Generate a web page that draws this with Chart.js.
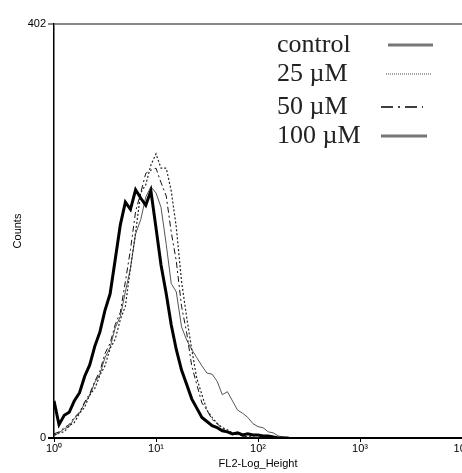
<!DOCTYPE html>
<html>
<head>
<meta charset="UTF-8" />
<title>FL2 histogram</title>
<style>
  html, body { margin: 0; padding: 0; background: #fff; overflow: hidden; }
  #box { width: 500px; height: 473px; }
</style>
</head>
<body>
<div id="box"><canvas id="histChart" width="500" height="473"></canvas></div>
<script src="https://cdn.jsdelivr.net/npm/chart.js"></script>
<script>
// FL2 channel (log scale), one point every 0.05 decade
const fl2 = [1, 1.12, 1.26, 1.41, 1.58, 1.78, 2, 2.24, 2.51, 2.82, 3.16, 3.55, 3.98, 4.47, 5.01, 5.62, 6.31, 7.08, 7.94, 8.91,
  10, 11.2, 12.6, 14.1, 15.8, 17.8, 20, 22.4, 25.1, 28.2, 31.6, 35.5, 39.8, 44.7, 50.1, 56.2, 63.1, 70.8, 79.4, 89.1,
  100, 112, 126, 141, 158, 178, 200];

const control = [36, 13, 22, 25, 36, 44, 60, 71, 89, 103, 124, 140, 173, 207, 229, 222, 241, 233, 226, 240,
  204, 168, 140, 110, 86, 66, 52, 38, 29, 20, 16, 12, 10, 7, 6, 4, 5, 3, 4, 3,
  3, 2, 2, 1, 0, 0, 0];
const um25 = [3, 5, 6, 12, 15, 24, 30, 42, 48, 61, 70, 87, 96, 115, 128, 165, 200, 238, 246, 265,
  276, 262, 262, 240, 205, 152, 117, 86, 58, 42, 27, 20, 14, 10, 8, 5, 4, 2, 1, 1,
  0, 0, 0, 0, 0, 0, 0];
const um50 = [4, 6, 10, 13, 20, 25, 35, 43, 55, 65, 82, 92, 110, 122, 152, 183, 220, 238, 257, 260,
  262, 248, 235, 200, 172, 128, 102, 70, 52, 34, 27, 18, 14, 9, 7, 4, 3, 2, 1, 1,
  0, 0, 0, 0, 0, 0, 0];
const um100 = [2, 5, 9, 11, 19, 24, 34, 41, 54, 62, 78, 88, 107, 118, 142, 165, 198, 212, 234, 244,
  238, 224, 188, 150, 142, 108, 95, 86, 78, 70, 63, 62, 55, 42, 45, 36, 27, 24, 20, 14,
  11, 10, 6, 5, 2, 1, 0];

const seriesNames = ['control', '25 µM', '50 µM', '100 µM'];
const xTicks = [1, 10, 100, 1000, 10000];
const xTickLabels = ['10⁰', '10¹', '10²', '10³', '10⁴'];
const yTicks = [0, 402];

function pts(arr) {
  return fl2.map((x, i) => ({ x: x, y: arr[i] }));
}

// legend drawn like the original (serif text with line samples)
const legendPlugin = {
  id: 'sideLegend',
  afterDraw(chart) {
    const c = chart.ctx;
    const rows = [
      { y: 45, x1: 388, x2: 433, color: '#777', width: 3, dash: [] },
      { y: 74, x1: 386, x2: 432, color: '#888', width: 1.5, dash: [1, 1] },
      { y: 107, x1: 381, x2: 423, color: '#000', width: 1.5, dash: [12, 5, 2, 5] },
      { y: 136, x1: 381, x2: 427, color: '#777', width: 3, dash: [] }
    ];
    c.save();
    c.font = "26px 'Liberation Serif'";
    c.fillStyle = '#222';
    c.textBaseline = 'middle';
    rows.forEach((r, i) => {
      c.fillText(seriesNames[i], 277, r.y);
      c.beginPath();
      c.setLineDash(r.dash);
      c.strokeStyle = r.color;
      c.lineWidth = r.width;
      c.moveTo(r.x1, r.y);
      c.lineTo(r.x2, r.y);
      c.stroke();
    });
    c.restore();
  }
};

const ctx = document.getElementById('histChart');
new Chart(ctx, {
  type: 'line',
  data: {
    datasets: [
      { label: seriesNames[0], data: pts(control), borderColor: '#000', borderWidth: 3 },
      { label: seriesNames[1], data: pts(um25), borderColor: '#222', borderWidth: 1.2, borderDash: [2, 2] },
      { label: seriesNames[2], data: pts(um50), borderColor: '#111', borderWidth: 1, borderDash: [6, 3, 2, 3] },
      { label: seriesNames[3], data: pts(um100), borderColor: '#555', borderWidth: 1 }
    ]
  },
  options: {
    responsive: false,
    animation: false,
    elements: { point: { radius: 0 }, line: { tension: 0 } },
    layout: { padding: { top: 24, right: 38, left: 0, bottom: 0 } },
    plugins: { legend: { display: false }, tooltip: { enabled: false } },
    scales: {
      x: {
        type: 'logarithmic',
        min: 1,
        max: 10000,
        afterBuildTicks: s => { s.ticks = xTicks.map(v => ({ value: v })); },
        afterFit: s => { s.height = 35; },
        ticks: {
          callback: v => xTickLabels[xTicks.indexOf(v)],
          autoSkip: false, maxRotation: 0, padding: 0,
          color: '#000', font: { family: 'Liberation Sans', size: 11 }
        },
        grid: { drawOnChartArea: false, tickLength: 4, color: '#000' },
        border: { color: '#000', width: 2 },
        title: {
          display: true, text: 'FL2-Log_Height', color: '#000',
          font: { family: 'Liberation Sans', size: 11 }, padding: { top: 0, bottom: 2 }
        }
      },
      y: {
        min: 0,
        max: 402,
        afterBuildTicks: s => { s.ticks = yTicks.map(v => ({ value: v })); },
        afterFit: s => { s.width = 54; },
        ticks: {
          padding: 2, color: '#000',
          font: { family: 'Liberation Sans', size: 11 }
        },
        grid: {
          drawOnChartArea: true, tickLength: 6,
          color: c => (c.tick && c.tick.value === 402 ? '#888' : '#000'),
          lineWidth: 2
        },
        border: { color: '#000', width: 1.5 },
        title: {
          display: true, text: 'Counts', color: '#000',
          font: { family: 'Liberation Sans', size: 11 }, padding: { top: 11, bottom: 0 }
        }
      }
    }
  },
  plugins: [legendPlugin]
});
</script>
</body>
</html>
